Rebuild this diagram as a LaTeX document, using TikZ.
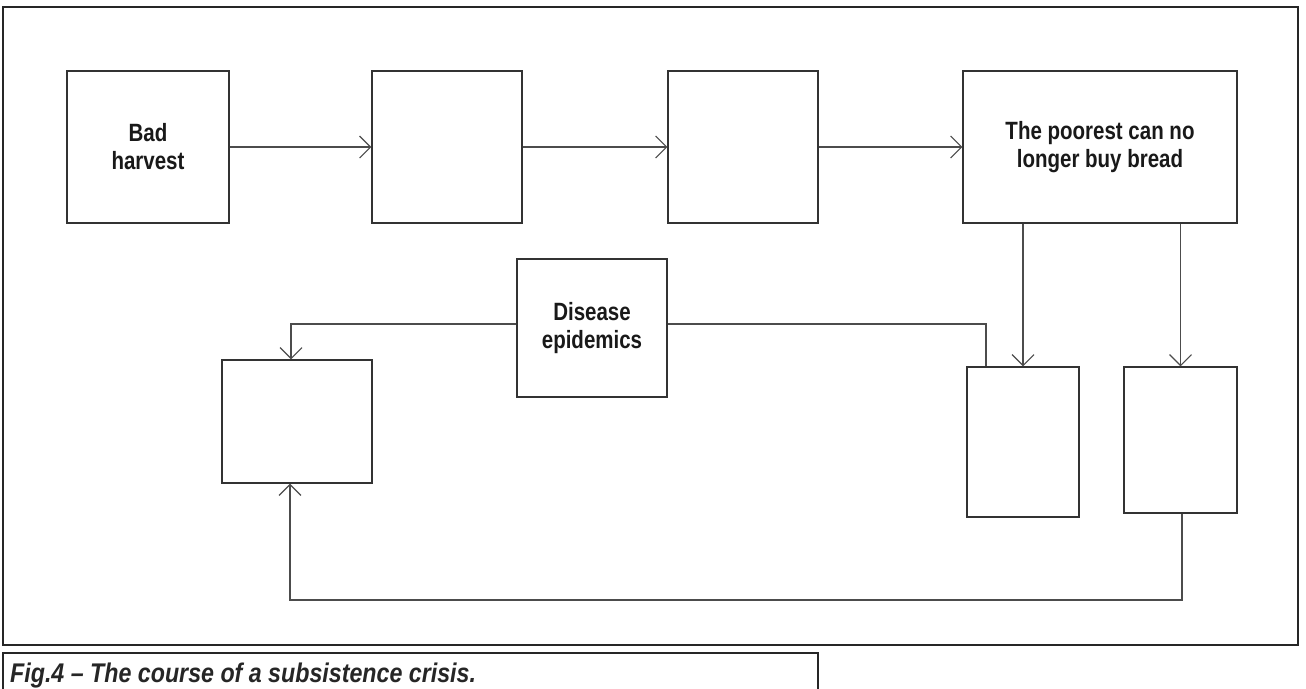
\documentclass[tikz,border=0pt]{standalone}
\usepackage{fontspec}
\setmainfont{Liberation Sans}[FakeStretch=0.82]
\newfontfamily\capfont{Liberation Sans}[FakeStretch=0.86]
\usetikzlibrary{arrows.meta}
\begin{document}
\begin{tikzpicture}[x=1pt,y=-1pt,
  box/.style={draw=black!80, line width=1.4pt, inner sep=0pt, align=center,
    font=\bfseries\fontsize{25}{28}\selectfont, text=black!90},
  conn/.style={draw=black!70, line width=1.1pt},
  arr/.style={conn, -{Straight Barb[length=11pt,width=22pt]}},
  frame/.style={draw=black!85, line width=1.8pt}]
\useasboundingbox (0,0) rectangle (1306,688);
\fill[white] (0,0) rectangle (1306,688);
% outer frame
\draw[frame] (3,7) rectangle (1298,645);
% boxes
\node[box, minimum width=162pt, minimum height=152pt] (b1) at (148,147) {Bad\\harvest};
\node[box, minimum width=150pt, minimum height=152pt] (b2) at (447,147) {};
\node[box, minimum width=150pt, minimum height=152pt] (b3) at (743,147) {};
\node[box, minimum width=274pt, minimum height=152pt] (b4) at (1100,147) {The poorest can no\\longer buy bread};
\node[box, minimum width=150pt, minimum height=138pt] (dis) at (592,328) {Disease\\epidemics};
\node[box, minimum width=150pt, minimum height=123pt] (b6) at (297,421.5) {};
\node[box, minimum width=112pt, minimum height=150pt] (b7) at (1023,442) {};
\node[box, minimum width=113pt, minimum height=146pt] (b8) at (1180.5,440) {};
% coordinates
\coordinate (c1) at (291,324);
\coordinate (c2) at (986,324);
\coordinate (c3) at (290,600);
\coordinate (c4) at (1182,600);
% connectors
\draw[arr] (b1.east) -- (b2.west);
\draw[arr] (b2.east) -- (b3.west);
\draw[arr] (b3.east) -- (b4.west);
\draw[arr] (b4.south -| b7.north) -- (b7.north);
\draw[arr] (b4.south -| b8.north) -- (b8.north);
\draw[arr] (dis.west |- c1) -- (c1) -- (c1 |- b6.north);
\draw[conn] (dis.east |- c2) -- (c2) -- (c2 |- b7.north);
\draw[arr] (c4 |- b8.south) -- (c4) -- (c3) -- (c3 |- b6.south);
% caption
\draw[frame] (3,690) -- (3,653) -- (818,653) -- (818,690);
\node[anchor=west, inner sep=0pt, text=black!85,
  font=\capfont\bfseries\itshape\fontsize{27}{29}\selectfont] (cap) at (10,676)
  {Fig.4 – The course of a subsistence crisis.};
\end{tikzpicture}
\end{document}
